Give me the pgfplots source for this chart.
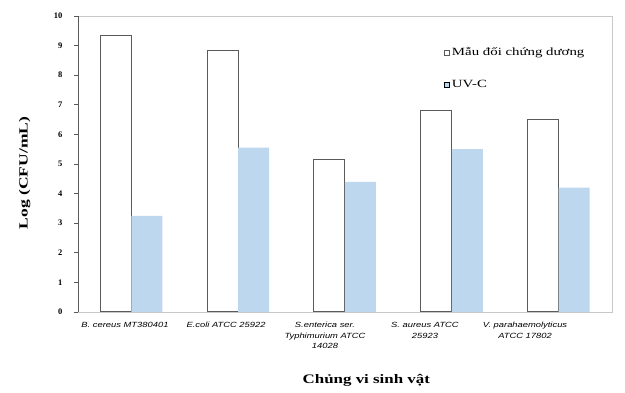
\documentclass[border=0pt]{standalone}
\usepackage{fontspec}
\setmainfont{Liberation Serif}
\setsansfont{Liberation Sans}
\usepackage{graphicx}
\usepackage{pgfplots}
\pgfplotsset{compat=1.18}
\definecolor{uvblue}{RGB}{189,215,238}
\definecolor{framegray}{RGB}{200,200,200}
\definecolor{bardark}{RGB}{90,90,90}
\newcommand\xl[1]{\scalebox{1.25}[1]{\begin{tabular}{@{}c@{}}#1\end{tabular}}}
\begin{document}
\begin{tikzpicture}
\begin{axis}[
  at={(0,0)}, anchor=south west,
  scale only axis, width=534pt, height=296pt,
  ymin=0, ymax=10, ytick={0,1,...,10},
  xmin=-0.5, xmax=4.5,
  xtick={-0.06,0.886,1.813,2.749,3.686},
  xticklabels={{\xl{B. cereus MT380401}},{\xl{E.coli ATCC 25922}},{\xl{S.enterica ser.\\Typhimurium ATCC\\14028}},{\xl{S. aureus ATCC\\25923}},{\xl{V. parahaemolyticus\\ATCC 17802}}},
  x tick label style={font=\sffamily\itshape\fontsize{7.5}{10.5}\selectfont, anchor=north, yshift=-1pt},
  y tick label style={font=\bfseries\fontsize{8.5}{10}\selectfont, xshift=-8pt},
  /pgf/number format/assume math mode=true,
  major x tick style={draw=none},
  ytick style={draw=bardark, line width=0.6pt},
  tick align=outside, tick pos=left,
  major tick length=4pt,
  axis line style={draw=framegray, line width=0.8pt},
  ybar=0pt, bar width=31pt,
  ylabel={\scalebox{1.4}[1]{\bfseries Log (CFU/mL)}},
  ylabel style={font=\fontsize{12.5}{13}\selectfont, at={(-0.1,0.47)}, anchor=center},
  xlabel={\scalebox{1.3}[1]{\bfseries Chủng vi sinh vật}},
  xlabel style={font=\fontsize{13}{14}\selectfont, at={(0.54,-0.23)}, anchor=center},
  legend style={draw=none, fill=none, at={(0.685,0.9)}, anchor=north west,
    font=\fontsize{11}{12}\selectfont, row sep=19pt, inner sep=0pt,
    /tikz/every even column/.append style={column sep=0pt}},
  legend cell align=left,
  legend image code/.code={\draw[#1] (1pt,-2.6pt) rectangle (6pt,2.4pt);},
]
\addplot[draw=bardark, fill=white, line width=1pt] coordinates {(0,9.35) (1,8.85) (2,5.15) (3,6.8) (4,6.5)};
\addplot[draw=none, fill=uvblue] coordinates {(0,3.25) (1,5.55) (2,4.4) (3,5.5) (4,4.2)};
\legend{\scalebox{1.35}[1]{Mẫu đối chứng dương}, \scalebox{1.35}[1]{UV-C}}
\draw[bardark, line width=0.8pt] (rel axis cs:0,0) -- (rel axis cs:0,1);
\end{axis}
\useasboundingbox (-78pt,-81pt) rectangle (547pt,312pt);
\end{tikzpicture}
\end{document}
